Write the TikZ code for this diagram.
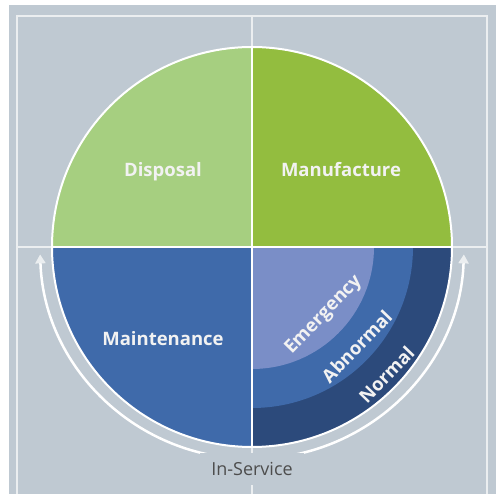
\documentclass[tikz,border=0pt]{standalone}
\usepackage{fontspec}
\setmainfont{Open Sans}
\usetikzlibrary{arrows.meta}

\definecolor{panel}{HTML}{BFC9D2}
\definecolor{rule}{HTML}{EBEEF0}
\definecolor{disposal}{HTML}{A6CF80}
\definecolor{manufacture}{HTML}{93BD3F}
\definecolor{maintenance}{HTML}{3F6AAA}
\definecolor{normal}{HTML}{2C4A7B}
\definecolor{emergency}{HTML}{7A8EC7}
\definecolor{caption}{HTML}{4D4D4D}
\definecolor{label}{HTML}{F2F2F2}

\begin{document}
\begin{tikzpicture}[x=1pt,y=1pt,
    >={Triangle[width=10pt,length=9pt,color=rule]},
    phase/.style={text=label,text height=1.5ex,text depth=0.25ex,
      font=\bfseries\fontsize{18.5}{22}\selectfont},
    mode/.style={phase,rotate=46},
    guide/.style={draw=rule,line width=2pt},
    split/.style={draw=white,line width=2.5pt}]
  \useasboundingbox (-252,-247) rectangle (244,247);
  \fill[panel] (-243,-247) rectangle (244,242);
  \draw[guide] (-235,-247) -- (-235,231) -- (235,231) -- (235,-247);
  \draw[guide] (0,231) -- (0,-247);
  \draw[guide] (-235,0) -- (235,0);

  \fill[disposal] (0,0) -- (180:200) arc (180:90:200) -- cycle;
  \fill[manufacture] (0,0) -- (90:200) arc (90:0:200) -- cycle;
  \fill[maintenance] (0,0) -- (270:200) arc (270:180:200) -- cycle;
  \fill[normal] (0,0) -- (360:200) arc (360:270:200) -- cycle;
  \fill[maintenance] (0,0) -- (360:161) arc (360:270:161) -- cycle;
  \fill[emergency] (0,0) -- (360:122) arc (360:270:122) -- cycle;
  \draw[white,line width=2pt] (0,0) circle (200);
  \draw[split] (-200,0) -- (200,0) (0,200) -- (0,-200);

  \coordinate (left) at (182:212);
  \coordinate (right) at (358:212);
  \draw[white,line width=2.5pt,<->] (left) arc (182:358:212);

  \node[phase] (disposal) at (-89,74) {Disposal};
  \node[phase] (manufacture) at (89,74) {Manufacture};
  \node[phase] (maintenance) at (-89,-95) {Maintenance};
  \node[mode] (emergency) at (-43.5:100) {Emergency};
  \node[mode] (abnormal) at (-43.5:148) {Abnormal};
  \node[mode] (normal) at (-43.5:189) {Normal};
  \node[fill=panel,text=caption,inner xsep=11pt,minimum height=32pt,
    font=\fontsize{18}{21}\selectfont] (service) at (0,-222) {In-Service};
\end{tikzpicture}
\end{document}
